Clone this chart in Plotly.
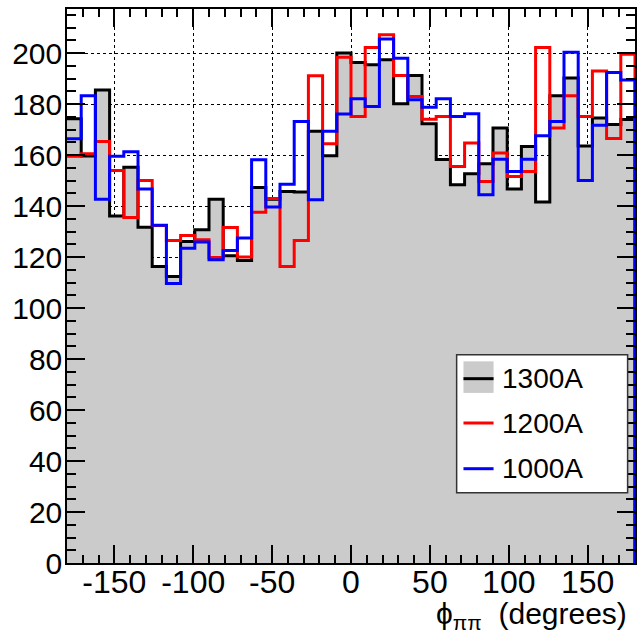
import numpy as np
import plotly.graph_objects as go

# phi_pipi histograms, 40 bins of 9 degrees from -180 to 180
x_min, x_max, n_bins = -180, 180, 40

counts_1300A = [174.3, 159.6, 185.5, 136.1, 155.2, 131.7, 116.3, 112.4, 126.1, 130.7,
                142.7, 120.5, 118.7, 147.3, 142.7, 145.7, 145.5, 169.3, 159.7, 200.0,
                196.3, 195.4, 197.4, 180.1, 191.2, 172.3, 158.3, 148.4, 152.7, 156.6,
                170.6, 146.7, 163.4, 141.6, 183.3, 190.2, 163.6, 174.5, 172.0, 174.0]
counts_1200A = [159.5, 160.5, 165.3, 154.0, 135.5, 150.0, 132.4, 126.5, 128.5, 126.8,
                119.8, 131.6, 120.0, 137.6, 143.0, 116.3, 126.5, 191.1, 164.4, 198.4,
                175.1, 202.2, 207.2, 191.2, 183.0, 174.1, 175.1, 155.5, 164.7, 149.6,
                160.8, 151.6, 153.6, 202.2, 170.6, 183.3, 175.1, 193.0, 166.5, 199.6]
counts_1000A = [166.4, 183.3, 142.7, 159.5, 161.3, 146.7, 132.5, 109.6, 123.5, 125.9,
                118.9, 122.6, 127.5, 158.2, 139.6, 148.6, 173.2, 142.5, 169.3, 176.1,
                182.1, 179.1, 205.5, 198.0, 181.7, 178.8, 182.1, 175.1, 176.2, 144.4,
                158.4, 153.6, 158.4, 167.6, 173.2, 200.3, 150.0, 171.7, 192.4, 189.5]

x_ticks = [-150, -100, -50, 0, 50, 100, 150]
x_tick_labels = ["-150", "-100", "-50", "0", "50", "100", "150"]
legend_names = ["1300A", "1200A", "1000A"]

edges = np.linspace(x_min, x_max, n_bins + 1)


def step_xy(vals):
    # step outline, dropping to zero at the last edge like ROOT does
    xs = list(edges[:-1]) + [edges[-1], edges[-1]]
    ys = list(vals) + [vals[-1], 0]
    return xs, ys


fig = go.Figure()

xs, ys = step_xy(counts_1300A)
fig.add_trace(go.Scatter(x=xs, y=ys, mode="lines", line=dict(color="black", width=3, shape="hv"),
                         fill="tozeroy", fillcolor="#cbcbcb", name=legend_names[0]))
xs, ys = step_xy(counts_1200A)
fig.add_trace(go.Scatter(x=xs, y=ys, mode="lines", line=dict(color="#ff0000", width=3, shape="hv"),
                         name=legend_names[1]))
xs, ys = step_xy(counts_1000A)
fig.add_trace(go.Scatter(x=xs, y=ys, mode="lines", line=dict(color="#0000ff", width=3, shape="hv"),
                         name=legend_names[2]))

font_family = "Liberation Sans, Arial, sans-serif"

fig.update_xaxes(
    range=[x_min, x_max], tickmode="array", tickvals=x_ticks, ticktext=x_tick_labels,
    ticks="inside", ticklen=18, tickwidth=1.5, tickcolor="black",
    minor=dict(tickmode="array", tickvals=list(range(-170, 180, 10)), ticks="inside",
               ticklen=8, tickwidth=1.5, tickcolor="black", showgrid=False),
    showline=True, linecolor="black", linewidth=1.5, mirror="ticks",
    showgrid=True, gridcolor="black", griddash="dot", gridwidth=1,
    zeroline=False, automargin=False, ticklabelstandoff=-10,
    tickfont=dict(family=font_family, size=32, color="black"),
)
fig.update_yaxes(
    range=[0, 217.3], tickmode="linear", tick0=0, dtick=20,
    ticks="inside", ticklen=18, tickwidth=1.5, tickcolor="black",
    minor=dict(tickmode="linear", tick0=0, dtick=5, ticks="inside",
               ticklen=9, tickwidth=1.5, tickcolor="black", showgrid=False),
    showline=True, linecolor="black", linewidth=1.5, mirror="ticks",
    showgrid=True, gridcolor="black", griddash="dot", gridwidth=1,
    zeroline=False, automargin=False, ticklabelstandoff=-3,
    tickfont=dict(family=font_family, size=30, color="black"),
)

# hand-made legend box, ROOT style
shapes = [
    dict(type="rect", xref="paper", yref="paper", x0=0.686, x1=0.987, y0=0.127, y1=0.376,
         fillcolor="white", line=dict(color="#333333", width=1.5)),
    dict(type="rect", xref="paper", yref="paper", x0=0.698, x1=0.751, y0=0.307, y1=0.364,
         fillcolor="#cbcbcb", line=dict(width=0)),
    dict(type="line", xref="paper", yref="paper", x0=0.698, x1=0.751, y0=0.3327, y1=0.3327,
         line=dict(color="black", width=3)),
    dict(type="line", xref="paper", yref="paper", x0=0.698, x1=0.751, y0=0.2527, y1=0.2527,
         line=dict(color="#ff0000", width=3)),
    dict(type="line", xref="paper", yref="paper", x0=0.698, x1=0.751, y0=0.1702, y1=0.1702,
         line=dict(color="#0000ff", width=3)),
]
annotations = []
for name, yy in zip(legend_names, [0.3327, 0.2527, 0.1702]):
    annotations.append(dict(text=name, xref="paper", yref="paper", x=0.762, y=yy,
                            xanchor="left", yanchor="middle", showarrow=False,
                            font=dict(family=font_family, size=28, color="black")))

annotations.append(dict(text="ϕ<sub>ππ</sub>&nbsp;&nbsp;(degrees)", xref="paper", yref="paper",
                        x=0.99, y=-0.095, xanchor="right", yanchor="middle", showarrow=False,
                        font=dict(family=font_family, size=30, color="black")))

fig.update_layout(
    width=638, height=636,
    margin=dict(l=67, r=3, t=9, b=73),
    plot_bgcolor="white", paper_bgcolor="white",
    showlegend=False,
    shapes=shapes, annotations=annotations,
)

# the page's default body margin would push the figure out of the window
fig.write_html("out.html", config={"displayModeBar": False},
               post_script="document.body.style.margin = '0';")
